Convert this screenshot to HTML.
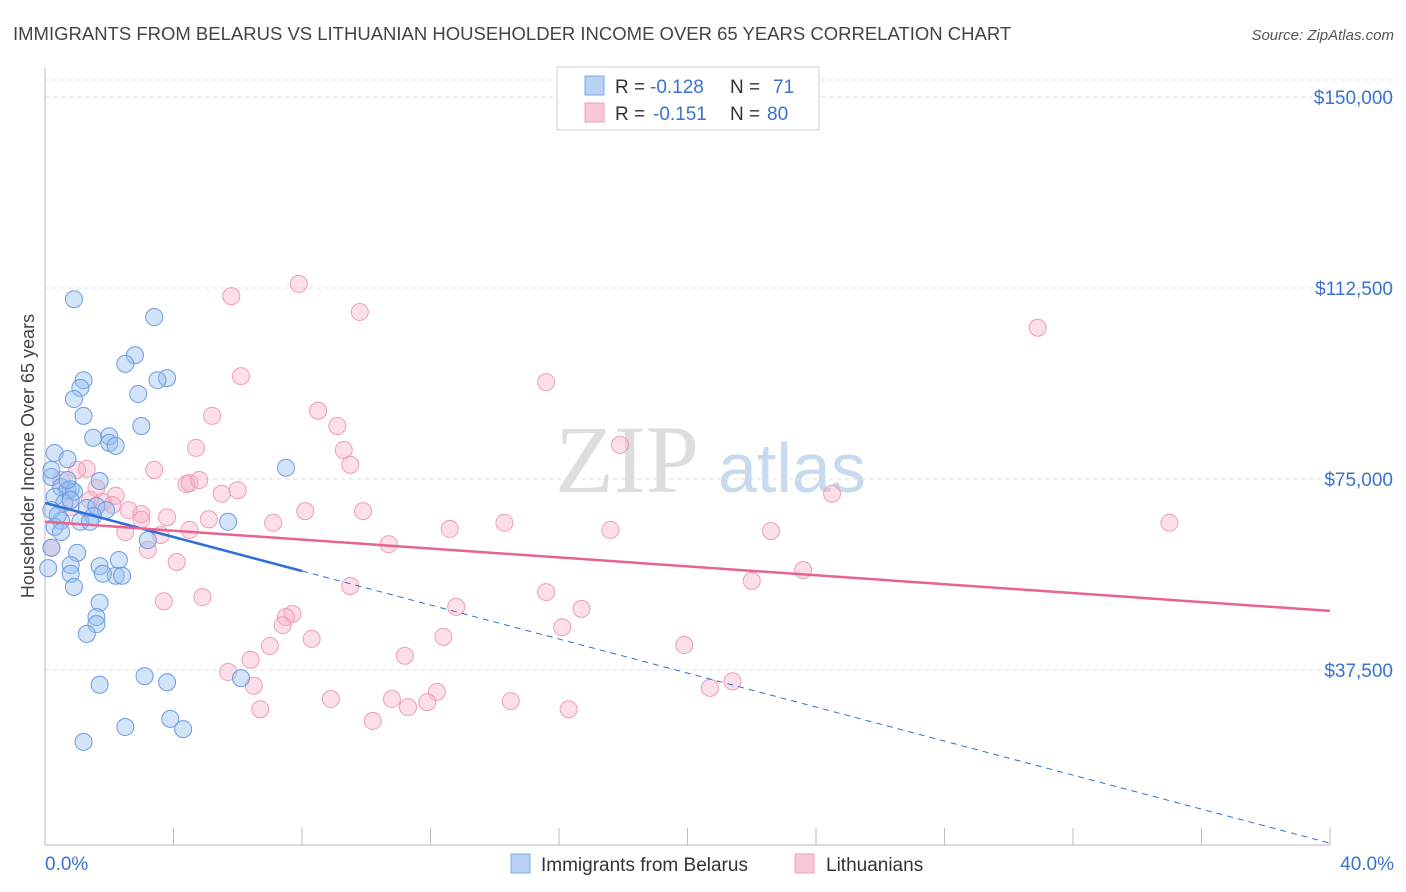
<!DOCTYPE html>
<html><head><meta charset="utf-8">
<style>
body{margin:0;background:#fff;font-family:"Liberation Sans",sans-serif;}
svg{display:block}
</style></head>
<body>
<svg id="chart" width="1406" height="892">
<text x="13" y="40" font-size="18.5" fill="#444">IMMIGRANTS FROM BELARUS VS LITHUANIAN HOUSEHOLDER INCOME OVER 65 YEARS CORRELATION CHART</text>
<text x="1394" y="40" font-size="15" fill="#555" font-style="italic" text-anchor="end">Source: ZipAtlas.com</text>
<text x="34" y="456" font-size="18" fill="#444" text-anchor="middle" transform="rotate(-90 34 456)">Householder Income Over 65 years</text>
<text x="555" y="492" font-size="96" fill="#ddd" font-family="Liberation Serif,serif">ZIP</text>
<text x="718" y="492" font-size="70" fill="#c8daf0">atlas</text>
<g id="grid"></g><g id="axes"></g><g id="pts"></g><g id="lines"></g>
<g>
<rect x="557" y="67" width="262" height="63" fill="#fff" stroke="#ccc"/>
<rect x="585" y="76" width="19" height="19" fill="#b8d2f4" stroke="#7fa8de"/>
<rect x="585" y="103" width="19" height="19" fill="#f9c8d6" stroke="#f0a0b8"/>
<text y="93" font-size="19" fill="#333"><tspan x="615">R =</tspan><tspan x="650" fill="#3a72d0">-0.128</tspan><tspan x="730">N =</tspan><tspan x="773" fill="#3a72d0">71</tspan></text>
<text y="120" font-size="19" fill="#333"><tspan x="615">R =</tspan><tspan x="653" fill="#3a72d0">-0.151</tspan><tspan x="730">N =</tspan><tspan x="767" fill="#3a72d0">80</tspan></text>
</g>
<g>
<rect x="511" y="854" width="19" height="19" fill="#b8d2f4" stroke="#7fa8de"/>
<text x="541" y="871" font-size="19" fill="#333">Immigrants from Belarus</text>
<rect x="795" y="854" width="19" height="19" fill="#f9c8d6" stroke="#f0a0b8"/>
<text x="826" y="871" font-size="19" fill="#333">Lithuanians</text>
</g>
</svg>
<script>
const yTicks=[37500,75000,112500,150000];
const yTickLabels=["$37,500","$75,000","$112,500","$150,000"];
const xTickLabels=["0.0%","40.0%"];
const blueX=[0.9,3.4,2.8,2.5,1.2,3.8,3.5,1.1,2.9,0.9,1.2,3.0,1.5,2.0,2.0,2.2,0.3,0.7,7.5,0.2,1.7,0.5,0.8,0.7,0.9,0.3,0.6,0.8,1.3,1.6,1.9,1.5,1.1,1.4,0.5,0.3,0.5,5.7,3.2,0.2,1.0,2.3,0.8,1.7,0.1,0.8,2.2,1.8,2.4,0.9,1.7,1.6,1.6,1.3,3.1,3.8,1.7,6.1,3.9,2.5,4.3,1.2,0.2,0.4,0.2,0.7];
const blueY=[110.3,106.8,99.3,97.6,94.4,94.8,94.4,92.9,91.7,90.7,87.4,85.4,83.1,83.4,82.1,81.5,80.1,78.9,77.2,75.4,74.6,73.4,73.0,72.8,72.5,71.5,70.3,70.9,69.3,69.7,68.9,67.7,66.6,66.6,66.8,65.6,64.6,66.6,63.0,61.5,60.5,59.1,58.1,57.9,57.5,56.4,56.0,56.4,56.0,53.8,50.7,47.9,46.5,44.6,36.3,35.1,34.6,35.9,27.9,26.3,25.9,23.4,68.9,67.9,76.8,74.8];
const pinkX=[7.9,5.8,9.8,30.9,6.1,15.6,8.5,5.2,9.1,17.9,4.7,9.3,9.5,3.4,1.3,4.4,4.5,6.0,5.5,24.5,2.2,1.8,0.8,8.1,9.9,2.6,3.0,3.8,5.1,7.1,14.3,12.6,17.6,22.6,35.0,2.5,3.6,3.2,10.7,4.1,23.6,22.0,9.5,15.6,4.9,3.7,12.8,16.7,7.7,7.5,16.1,7.4,12.4,8.3,7.0,19.9,11.2,6.4,5.7,21.4,20.7,12.2,6.5,8.9,10.8,14.5,11.9,11.3,6.7,16.3,10.2,0.5,1.6,0.2,1.4,3.0,2.1,1.0,4.8,4.5];
const pinkY=[113.3,110.9,107.8,104.7,95.2,94.0,88.4,87.4,85.4,81.7,81.1,80.7,77.8,76.8,77.0,74.0,74.2,72.8,72.1,72.1,71.7,70.5,69.5,68.7,68.7,68.9,68.1,67.5,67.1,66.4,66.4,65.2,65.0,64.8,66.4,64.6,64.0,61.1,62.2,58.7,57.1,55.0,54.0,52.8,51.8,51.0,49.9,49.5,48.5,47.9,45.9,46.3,44.0,43.6,42.2,42.4,40.3,39.5,37.1,35.3,34.0,33.2,34.4,31.8,31.8,31.4,31.2,30.2,29.8,29.8,27.5,74.8,73.2,61.5,70.9,67.0,69.9,76.8,74.8,65.0];
const blueFit=[70.3,3.5]; // y at 0% and 40% ($k)
const pinkFit=[66.6,49.1];
const NS="http://www.w3.org/2000/svg";
const X=v=>45+v/40*1285;
const Y=v=>861-v/37.5*191; // v in $k
function mk(tag,attrs,parent){const e=document.createElementNS(NS,tag);for(const k in attrs)e.setAttribute(k,attrs[k]);parent.appendChild(e);return e;}
const grid=document.getElementById('grid'),axes=document.getElementById('axes'),pts=document.getElementById('pts'),lines=document.getElementById('lines');
let gt=mk('line',{x1:45,x2:1394,y1:80,y2:80,stroke:'#ddd','stroke-dasharray':'4,4'},grid);


yTicks.forEach((t,i)=>{
 const y=Y(t/1000);
 const g=mk('line',{x1:45,x2:1394,y1:y,y2:y,stroke:'#ddd','stroke-dasharray':'4,4'},grid);
 
 
 const l=mk('text',{x:1393,y:y+7,'font-size':19,fill:'#3a72d0','text-anchor':'end'},axes);
 l.textContent=yTickLabels[i];
 
 
});
mk('line',{x1:45,x2:45,y1:68,y2:845,stroke:'#bbb'},axes);
mk('line',{x1:45,x2:1330,y1:845,y2:845,stroke:'#bbb'},axes);
for(let i=0;i<=10;i++){const x=X(i*4);const t=mk('line',{x1:x,x2:x,y1:828,y2:845,stroke:'#bbb'},axes);
 
 }
[[45,'start',0],[1394,'end',1]].forEach(a=>{const l=mk('text',{x:a[0],y:870,'font-size':19,fill:'#3a72d0','text-anchor':a[1]},axes);l.textContent=xTickLabels[a[2]];
 
 });
pinkX.forEach((x,i)=>{const c=mk('circle',{cx:X(x),cy:Y(pinkY[i]),r:8.5,fill:'rgba(246,170,195,0.38)',stroke:'#ee9db6','stroke-width':1},pts);
 
 });
blueX.forEach((x,i)=>{const c=mk('circle',{cx:X(x),cy:Y(blueY[i]),r:8.5,fill:'rgba(150,190,240,0.42)',stroke:'#6d9be0','stroke-width':1},pts);
 
 });
const bf=v=>blueFit[0]+(blueFit[1]-blueFit[0])*v/40;
let b1=mk('line',{x1:X(0),y1:Y(bf(0)),x2:X(8),y2:Y(bf(8)),stroke:'#2f6fd6','stroke-width':2.5},lines);


let b2=mk('line',{x1:X(8),y1:Y(bf(8)),x2:X(40),y2:Y(bf(40)),stroke:'#2f6fd6','stroke-width':1,'stroke-dasharray':'6,5'},lines);


let p1=mk('line',{x1:X(0),y1:Y(pinkFit[0]),x2:X(40),y2:Y(pinkFit[1]),stroke:'#e8638f','stroke-width':2.5},lines);


</script>
</body></html>
